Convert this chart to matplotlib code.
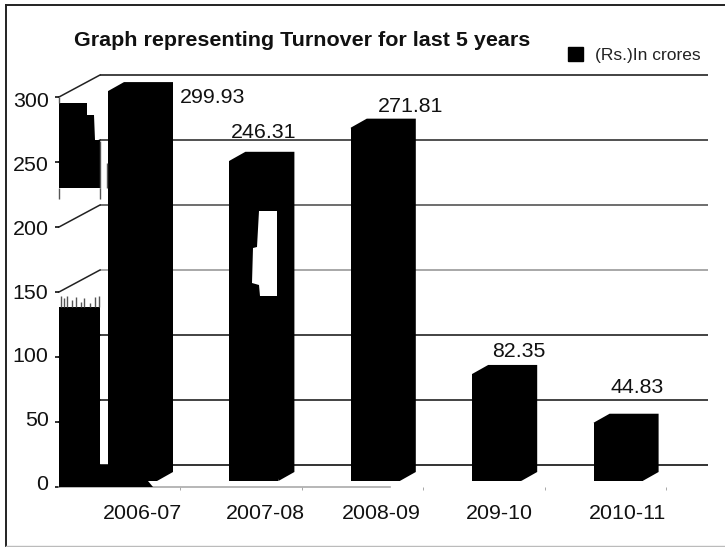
import matplotlib
matplotlib.use("Agg")
import matplotlib.pyplot as plt
from matplotlib.transforms import ScaledTranslation
from matplotlib.patches import Patch

plt.rcParams['font.family'] = ['Liberation Sans', 'DejaVu Sans']

categories = ["2006-07", "2007-08", "2008-09", "209-10", "2010-11"]
turnover = [299.93, 246.31, 271.81, 82.35, 44.83]
y_ticks = [0, 50, 100, 150, 200, 250, 300]
series_name = "(Rs.)In crores"
title = "Graph representing Turnover for last 5 years"

W, H = 725, 547
fig = plt.figure(figsize=(W / 100, H / 100), dpi=100, facecolor="white")

# axes geometry in pixels
AL, AR, AT, AB = 59, 708, 60, 487
PX_PER_UNIT = 1.3
STEP = 121.4
FIRST = 132.5
FS = 15.4
ax = fig.add_axes([AL / W, 1 - AB / H, (AR - AL) / W, (AB - AT) / H])
ax.set_xlim((AL - FIRST) / STEP, (AR - FIRST) / STEP)
ax.set_ylim(0, (AB - AT) / PX_PER_UNIT)
ax.patch.set_alpha(0)


def X(px):
    return (px - FIRST) / STEP


def Y(py):
    return (AB - py) / PX_PER_UNIT


WALL_DX, WALL_DY = 41, 22 / PX_PER_UNIT
grid_colors = ["#111111", "#222222", "#222222", "#999999", "#555555", "#333333", "#222222"]
for v, c in zip(y_ticks, grid_colors):
    ax.plot([X(AL + WALL_DX), X(AR)], [v + WALL_DY] * 2, color=c, lw=1.2, zorder=1, clip_on=False,
            solid_capstyle="butt")
    ax.plot([X(AL), X(AL + WALL_DX)], [v, v + WALL_DY], color="#222222", lw=1.1, zorder=1, clip_on=False)

# Bars with a 3-D chamfer
BAR_W = 49 / STEP
FLOOR = 6 / PX_PER_UNIT
DX, DY = 16 / STEP, 9 / PX_PER_UNIT
xs = list(range(len(categories)))
bars = ax.bar(xs, turnover, width=BAR_W, bottom=FLOOR, color="black", zorder=3, label=series_name)
for x, v in zip(xs, turnover):
    l, r = x - BAR_W / 2, x + BAR_W / 2
    top = v + FLOOR
    ax.fill([l, l + DX, r + DX, r + DX, r], [top, top + DY, top + DY, FLOOR + DY, FLOOR],
            color="black", lw=0, zorder=3)
    ax.fill([l, r, r], [top, top, FLOOR], color="black", lw=0, zorder=3)

# Scan damage in the source picture
blocks = [
    [(59, 103), (87, 103), (87, 115), (94, 115), (95, 140), (100, 140), (100, 188), (59, 188)],
    [(59, 307), (100, 307), (100, 465), (120, 465), (120, 481), (148, 481), (153, 487), (59, 487)],
]
for b in blocks:
    ax.fill([X(p[0]) for p in b], [Y(p[1]) for p in b], color="black", lw=0, zorder=4, clip_on=False)
hole = [(259, 211), (277, 211), (277, 296), (260, 296), (259, 285), (252, 283), (253, 248), (257, 247)]
ax.fill([X(p[0]) for p in hole], [Y(p[1]) for p in hole], color="white", lw=0, zorder=5)
for sx, y0, y1 in [(59, 188, 199), (100, 188, 199), (100, 141, 188), (107, 163, 188), (59, 97, 103),
                   (61, 296, 307), (64, 298, 307), (67, 296, 307), (72, 300, 307),
                   (76, 297, 307), (81, 302, 307), (84, 298, 307), (90, 303, 307), (95, 297, 307),
                   (99, 296, 307)]:
    ax.plot([X(sx)] * 2, [Y(y0), Y(y1)], color="#555555", lw=1, zorder=4, clip_on=False,
            solid_capstyle="butt")

# Data labels
label_offsets = [(80, -25), (10, 10), (35, 3), (22, 4), (19, 17)]
for x, v, (ox, oy) in zip(xs, turnover, label_offsets):
    ax.annotate(f"{v:.2f}", (x, v + FLOOR + DY), xytext=(ox * 0.72, oy * 0.72), textcoords="offset points",
                ha="center", va="bottom", fontsize=FS, color="#111111", zorder=6)

# Axes
for s in ("top", "right", "left", "bottom"):
    ax.spines[s].set_visible(False)
ax.plot([X(AL), X(390)], [0, 0], color="#aaaaaa", lw=1.2, zorder=2, clip_on=False)
ax.set_yticks(y_ticks)
ax.set_yticklabels([str(v) for v in y_ticks])
ax.tick_params(axis="y", length=3, width=1.2, pad=4.5, labelsize=FS, labelcolor="#111111", color="#111111")
y_shift = [5, 3, 2, 0, -1, -2, -3]
for t, d in zip(ax.get_yticklabels(), y_shift):
    t.set_transform(t.get_transform() + ScaledTranslation(0, d / 100, fig.dpi_scale_trans))
ax.set_xticks(xs)
ax.set_xticklabels(categories)
ax.tick_params(axis="x", length=0, pad=12.4, labelsize=FS, labelcolor="#111111")
x_shift = [9.5, 11, 6, 3, 9.5]
for t, d in zip(ax.get_xticklabels(), x_shift):
    t.set_transform(t.get_transform() + ScaledTranslation(d / 100, 0, fig.dpi_scale_trans))
ax.set_xticks([X(AL) + k for k in range(1, 6)], minor=True)
ax.tick_params(axis="x", which="minor", length=2, color="#999999")

# Title and legend
fig.text(74 / W, 1 - 40.5 / H, title, fontsize=15.45, fontweight="bold", ha="left", va="center", color="#111111")
fig.legend(handles=[Patch(facecolor="black", edgecolor="black", label=series_name)],
           loc="center left", bbox_to_anchor=(568 / W, 1 - 55 / H), frameon=False,
           fontsize=12.5, handlelength=0.86, handleheight=0.86, handletextpad=0.69, labelcolor="#222222",
           borderpad=0, borderaxespad=0)

# Picture frame
fr = fig.add_axes([0, 0, 1, 1], zorder=-1)
fr.set_xlim(0, W)
fr.set_ylim(H, 0)
fr.axis("off")
fr.plot([6, 6], [5, 546], color="#222222", lw=1.4)
fr.plot([6, W], [5, 5], color="#222222", lw=1.4)
fr.plot([6, W], [546, 546], color="#bbbbbb", lw=1)

fig.savefig("out.png", dpi=100)
